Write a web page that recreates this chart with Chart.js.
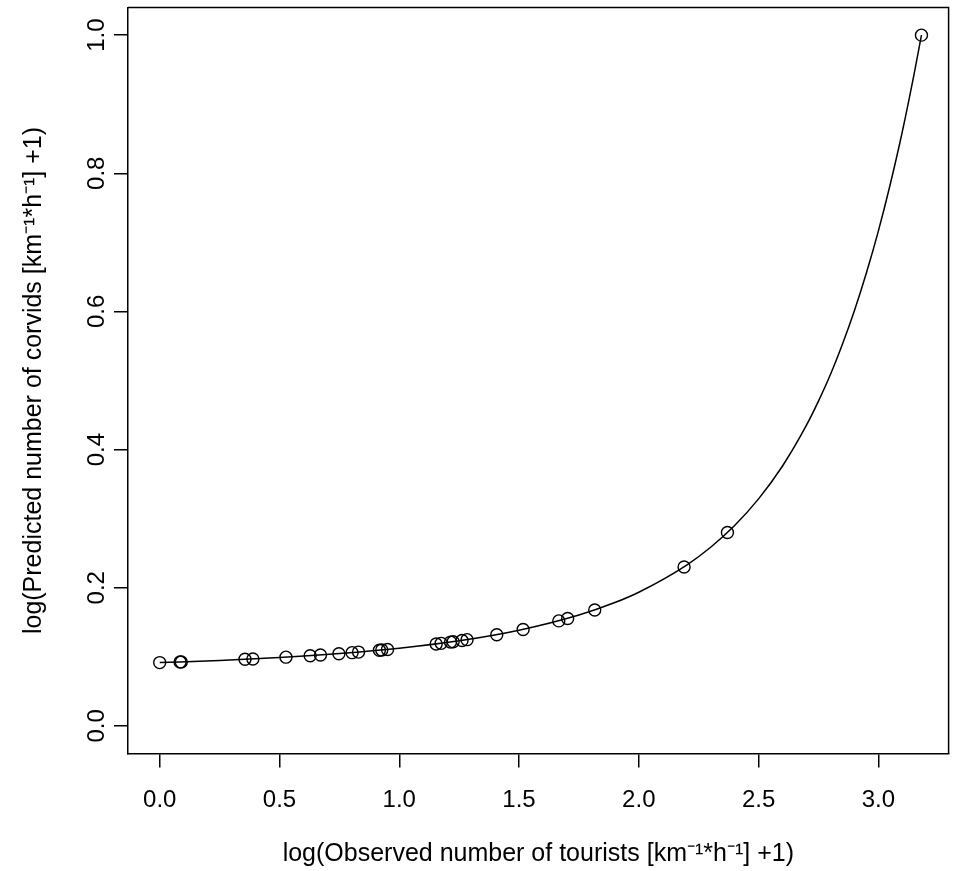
<!DOCTYPE html>
<html>
<head>
<meta charset="utf-8">
<script src="https://cdn.jsdelivr.net/npm/chart.js@4.4.1/dist/chart.umd.min.js"></script>
<style>
  html, body { margin: 0; padding: 0; background: #fff; }
</style>
</head>
<body>
<canvas id="plot" width="956" height="871"></canvas>
<script>
/* observed points: log(tourists+1) vs predicted log(corvids+1) */
var tourists = [0.0, 0.085, 0.09, 0.356, 0.389, 0.527, 0.628, 0.671, 0.748, 0.803,
                0.83, 0.917, 0.927, 0.951, 1.154, 1.175, 1.214, 1.225, 1.262, 1.283,
                1.407, 1.517, 1.666, 1.703, 1.816, 2.189, 2.37, 3.18];
var corvids  = [0.0916, 0.0925, 0.0926, 0.0964, 0.0969, 0.0995, 0.1016, 0.1026, 0.1045, 0.106,
                0.1068, 0.1095, 0.1098, 0.1106, 0.1186, 0.1195, 0.1213, 0.1218, 0.1237, 0.1248,
                0.132, 0.1395, 0.152, 0.1555, 0.1678, 0.23, 0.28, 1.0];

/* fitted line */
var curveX = [0.0, 0.25, 0.5, 0.75, 1.0, 1.25, 1.5, 1.75, 1.9, 2.0, 2.2, 2.3, 2.4, 2.5,
              2.6, 2.7, 2.75, 2.8, 2.85, 2.9, 2.95, 3.0, 3.05, 3.1, 3.15, 3.18];
var curveY = [0.0916, 0.0948, 0.099, 0.1047, 0.1124, 0.1231, 0.1384, 0.1604, 0.1785, 0.1935,
              0.2328, 0.2586, 0.29, 0.3286, 0.3762, 0.4353, 0.4701, 0.5086, 0.5524, 0.6009,
              0.6555, 0.7162, 0.7845, 0.8601, 0.945, 1.0];

var xTicks = [0, 0.5, 1, 1.5, 2, 2.5, 3];
var yTicks = [0, 0.2, 0.4, 0.6, 0.8, 1];

var xTitle = 'log(Observed number of tourists [km\u207B\u00B9*h\u207B\u00B9] +1)';
var yTitle = 'log(Predicted number of corvids [km\u207B\u00B9*h\u207B\u00B9] +1)';

var FONT = '"Liberation Sans", Arial, Helvetica, sans-serif';

function pairs(xs, ys) {
  return xs.map(function (x, i) { return { x: x, y: ys[i] }; });
}

/* box top/right edge and rotated y tick labels, like base R */
var framePlugin = {
  id: 'frame',
  afterDraw: function (chart) {
    var ctx = chart.ctx, a = chart.chartArea, ys = chart.scales.y;
    ctx.save();
    ctx.strokeStyle = '#000';
    ctx.lineWidth = 1.5;
    ctx.beginPath();
    ctx.moveTo(a.left, a.top);
    ctx.lineTo(a.right, a.top);
    ctx.lineTo(a.right, a.bottom);
    ctx.stroke();

    ctx.fillStyle = '#000';
    ctx.font = '24px ' + FONT;
    ctx.textAlign = 'center';
    ctx.textBaseline = 'middle';
    yTicks.forEach(function (v) {
      var py = ys.getPixelForValue(v);
      ctx.save();
      ctx.translate(97, py);
      ctx.rotate(-Math.PI / 2);
      ctx.fillText(v.toFixed(1), 0, 0);
      ctx.restore();
    });
    ctx.restore();
  }
};

var chart = new Chart(document.getElementById('plot').getContext('2d'), {
  type: 'scatter',
  data: {
    datasets: [{
      label: 'fit',
      data: pairs(curveX, curveY),
      showLine: true,
      cubicInterpolationMode: 'monotone',
      borderColor: '#000',
      borderWidth: 1.5,
      pointRadius: 0,
      fill: false
    }, {
      label: 'observed',
      data: pairs(tourists, corvids),
      pointStyle: 'circle',
      pointRadius: 6,
      pointBorderWidth: 1.4,
      pointBorderColor: '#000',
      pointBackgroundColor: 'rgba(0,0,0,0)',
      showLine: false
    }]
  },
  options: {
    responsive: false,
    animation: false,
    layout: { padding: { top: 7.5, right: 0, left: 0, bottom: 0 } },
    plugins: {
      legend: { display: false },
      tooltip: { enabled: false }
    },
    scales: {
      x: {
        type: 'linear',
        min: -0.1324,
        max: 3.2933,
        afterFit: function (s) { s.height = 117.5; },
        afterBuildTicks: function (s) {
          s.ticks = xTicks.map(function (v) { return { value: v }; });
        },
        border: { display: true, color: '#000', width: 1.5 },
        grid: { drawOnChartArea: false, drawTicks: true, tickLength: 14, color: '#000', lineWidth: 1.5 },
        ticks: {
          color: '#000',
          padding: 18,
          maxRotation: 0,
          autoSkip: false,
          font: { family: FONT, size: 24 },
          callback: function (v) { return Number(v).toFixed(1); }
        },
        title: {
          display: true,
          text: xTitle,
          color: '#000',
          font: { family: FONT, size: 25 },
          padding: { top: 0, bottom: 2 }
        }
      },
      y: {
        type: 'linear',
        min: -0.04,
        max: 1.04,
        afterFit: function (s) { s.width = 128; },
        afterBuildTicks: function (s) {
          s.ticks = yTicks.map(function (v) { return { value: v }; });
        },
        border: { display: true, color: '#000', width: 1.5 },
        grid: { drawOnChartArea: false, drawTicks: true, tickLength: 14, color: '#000', lineWidth: 1.5 },
        ticks: { display: false },
        title: {
          display: true,
          text: yTitle,
          color: '#000',
          font: { family: FONT, size: 25 },
          padding: { top: 19, bottom: 0 }
        }
      }
    }
  },
  plugins: [framePlugin]
});
</script>
</body>
</html>
